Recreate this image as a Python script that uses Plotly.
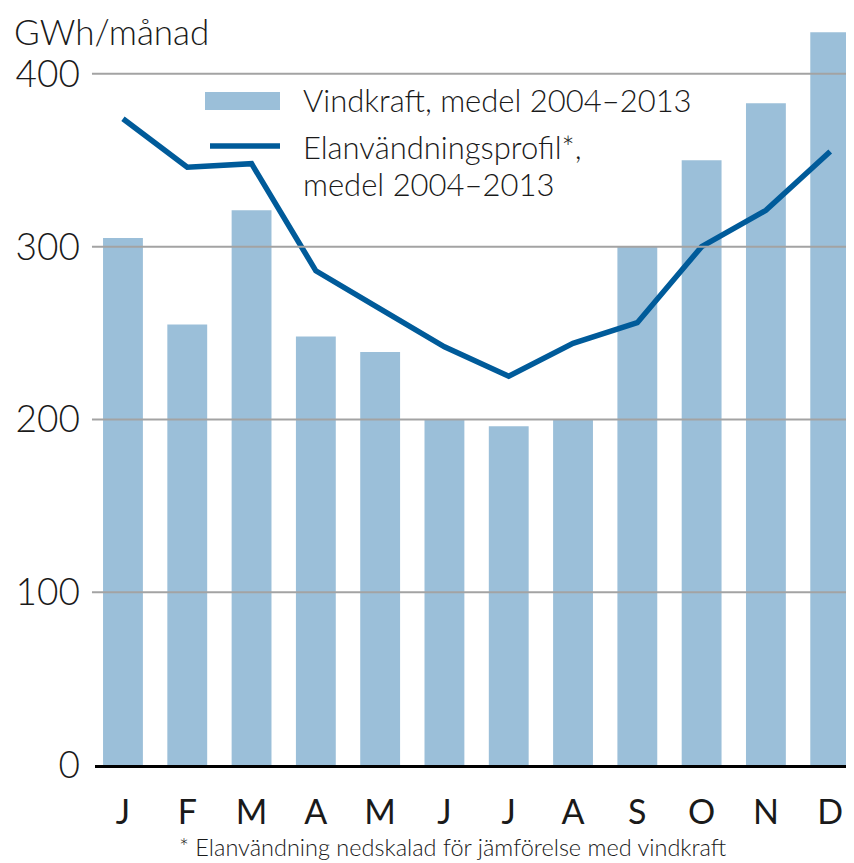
import plotly.graph_objects as go

# Data
months = ["J", "F", "M", "A", "M", "J", "J", "A", "S", "O", "N", "D"]
vindkraft = [305, 255, 321, 248, 239, 200, 196, 200, 300, 350, 383, 424]
elanvandning = [374, 346, 348, 286, 264, 242, 225, 244, 256, 300, 321, 355]
grid_values = [100, 200, 300, 400]
y_ticks = [0, 100, 200, 300, 400]

BAR_COLOR = "#9bbfd9"
LINE_COLOR = "#005b9a"
GRID_COLOR = "#a3a3a3"
TEXT_COLOR = "#1a1a1a"
FONT = "Lato"

# page has an 8px body margin, so the figure is drawn 8px smaller
OFF = 8
W, H = 854, 863
L, R, T, B = 95, 0, 22, 98  # plot area in window pixels
PW, PH = W - L - R, H - T - B


def px(x):
    return (x - L) / PW


def py(y):
    return (H - B - y) / PH


x_pos = list(range(len(months)))

fig = go.Figure()
fig.add_trace(go.Bar(
    x=x_pos, y=vindkraft,
    marker=dict(color=BAR_COLOR, line=dict(width=0)),
    name="Vindkraft, medel 2004–2013",
    showlegend=False,
))
fig.add_trace(go.Scatter(
    x=x_pos, y=elanvandning,
    mode="lines",
    line=dict(color=LINE_COLOR, width=5.5),
    name="Elanvändningsprofil*, medel 2004–2013",
    showlegend=False,
))

# gridlines drawn over the bars
for v in grid_values:
    fig.add_shape(type="line", xref="paper", yref="y", x0=-0.004, x1=1, y0=v, y1=v,
                  line=dict(color=GRID_COLOR, width=2), layer="above")

# legend drawn by hand
fig.add_shape(type="rect", xref="paper", yref="paper",
              x0=px(205), x1=px(280), y0=py(110), y1=py(92),
              fillcolor=BAR_COLOR, line=dict(width=0), layer="above")
fig.add_shape(type="line", xref="paper", yref="paper",
              x0=px(210), x1=px(280), y0=py(146), y1=py(146),
              line=dict(color=LINE_COLOR, width=5.5), layer="above")

annotations = [
    dict(text="Vindkraft, medel 2004–2013", x=px(301), y=py(100)),
    dict(text="Elanvändningsprofil*,", x=px(301), y=py(147)),
    dict(text="medel 2004–2013", x=px(301), y=py(184)),
]
for a in annotations:
    fig.add_annotation(xref="paper", yref="paper", xanchor="left", yanchor="middle",
                       showarrow=False,
                       font=dict(family=FONT, size=31, color=TEXT_COLOR, weight=300), **a)

fig.add_annotation(text="GWh/månad", xref="paper", yref="paper", x=px(12), y=py(31),
                   xanchor="left", yanchor="middle", showarrow=False,
                   font=dict(family=FONT, size=35, color=TEXT_COLOR, weight=300))
fig.add_annotation(text="* Elanvändning nedskalad för jämförelse med vindkraft",
                   xref="paper", yref="paper", x=px(453), y=py(847),
                   xanchor="center", yanchor="middle", showarrow=False,
                   font=dict(family=FONT, size=23.5, color=TEXT_COLOR, weight=300))

fig.update_layout(
    width=W - OFF, height=H - OFF,
    margin=dict(l=L - OFF, r=R, t=T - OFF, b=B),
    paper_bgcolor="white",
    plot_bgcolor="white",
    bargap=0.38,
    font=dict(family=FONT, size=34, color=TEXT_COLOR, weight=300),
)
fig.update_xaxes(
    range=[-0.435, 11.37],
    tickvals=x_pos, ticktext=months,
    showgrid=False, zeroline=False,
    showline=True, linecolor="black", linewidth=3,
    ticks="", ticklabelstandoff=15,
    tickfont=dict(family=FONT, size=34, color=TEXT_COLOR, weight=400),
)
fig.update_yaxes(
    range=[0, 430],
    tickvals=y_ticks,
    showgrid=False, zeroline=False, showline=False,
    ticks="", ticklabelstandoff=14,
    tickfont=dict(family=FONT, size=37, color=TEXT_COLOR, weight=300),
)

fig.write_html("out.html")
